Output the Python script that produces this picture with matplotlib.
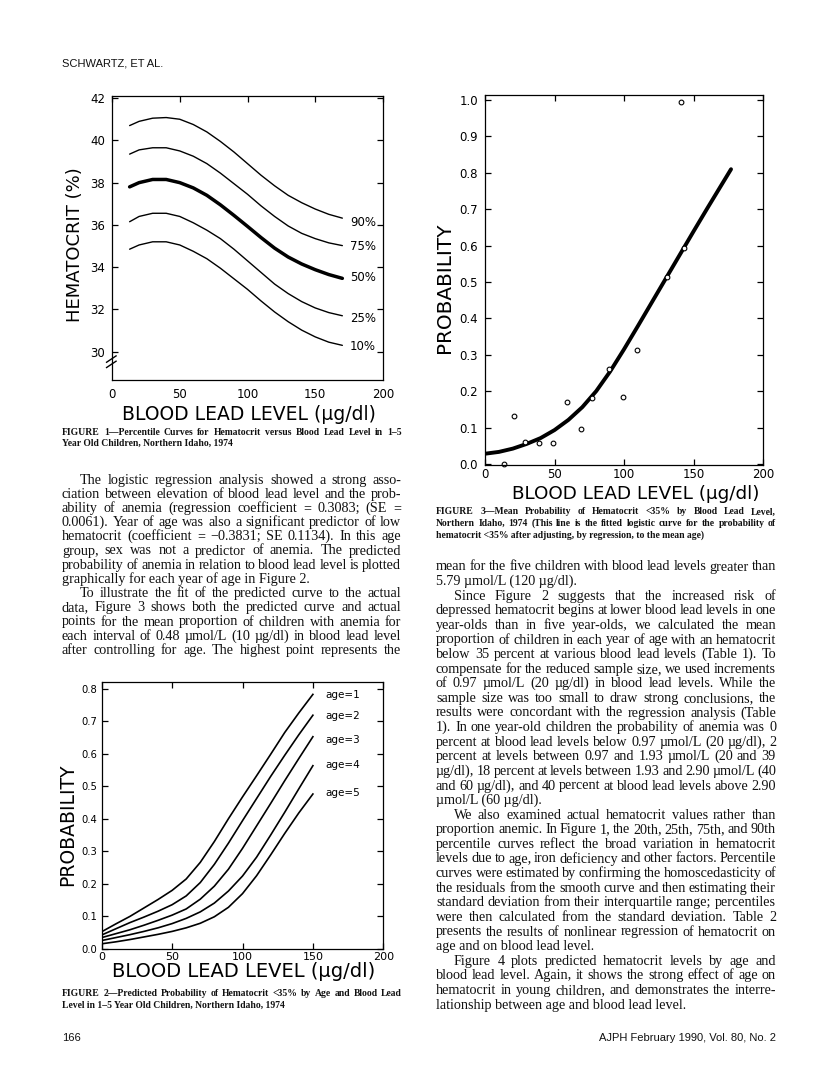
import matplotlib
matplotlib.use('Agg')
import matplotlib.pyplot as plt

plt.rcParams['font.family'] = ['DejaVu Sans']

# ---- Figure 1: percentile curves of hematocrit ----
f1_lead = [13, 20, 30, 40, 50, 60, 70, 80, 90, 100, 110, 120, 130, 140, 150, 160, 170]
hct_p90 = [40.7, 40.9, 41.05, 41.08, 41.0, 40.75, 40.4, 39.95, 39.45, 38.9, 38.35, 37.85, 37.4, 37.05, 36.75, 36.5, 36.32]
hct_p75 = [39.35, 39.55, 39.65, 39.65, 39.5, 39.25, 38.9, 38.45, 37.95, 37.45, 36.9, 36.4, 35.95, 35.6, 35.35, 35.15, 35.02]
hct_p50 = [37.8, 38.0, 38.15, 38.15, 38.0, 37.75, 37.4, 36.95, 36.45, 35.93, 35.4, 34.9, 34.48, 34.15, 33.88, 33.65, 33.47]
hct_p25 = [36.15, 36.4, 36.55, 36.55, 36.4, 36.1, 35.75, 35.35, 34.85, 34.3, 33.75, 33.2, 32.75, 32.37, 32.07, 31.85, 31.7]
hct_p10 = [34.85, 35.05, 35.2, 35.2, 35.05, 34.75, 34.4, 33.95, 33.45, 32.95, 32.4, 31.88, 31.42, 31.02, 30.7, 30.45, 30.3]
pct_names = ['90%', '75%', '50%', '25%', '10%']
pct_label_y = [36.09, 34.97, 33.52, 31.57, 30.23]

# ---- Figure 2: predicted probability by age ----
f2_lead = [0, 10, 20, 30, 40, 50, 60, 70, 80, 90, 100, 110, 120, 130, 140, 150]
prob_age1 = [0.053, 0.077, 0.10, 0.126, 0.152, 0.18, 0.215, 0.266, 0.33, 0.40, 0.467, 0.532, 0.598, 0.665, 0.725, 0.782]
prob_age2 = [0.043, 0.062, 0.081, 0.098, 0.116, 0.136, 0.163, 0.204, 0.26, 0.325, 0.394, 0.462, 0.53, 0.595, 0.658, 0.718]
prob_age3 = [0.035, 0.047, 0.059, 0.073, 0.088, 0.104, 0.123, 0.153, 0.193, 0.245, 0.309, 0.378, 0.447, 0.517, 0.585, 0.652]
prob_age4 = [0.026, 0.035, 0.044, 0.054, 0.065, 0.078, 0.094, 0.114, 0.141, 0.178, 0.224, 0.282, 0.35, 0.42, 0.492, 0.563]
prob_age5 = [0.016, 0.022, 0.029, 0.037, 0.045, 0.054, 0.065, 0.079, 0.099, 0.128, 0.17, 0.225, 0.289, 0.355, 0.418, 0.476]
age_names = ['age=1', 'age=2', 'age=3', 'age=4', 'age=5']
age_label_y = [0.78, 0.716, 0.642, 0.565, 0.478]

# ---- Figure 3: fitted logistic curve and observed means ----
f3_lead = [0, 10, 20, 30, 40, 50, 60, 70, 80, 90, 100, 110, 120, 130, 140, 150, 160, 170, 177]
fit_prob = [0.028, 0.033, 0.042, 0.055, 0.071, 0.093, 0.121, 0.156, 0.2, 0.254, 0.315, 0.379, 0.444, 0.509, 0.574, 0.639, 0.703, 0.766, 0.81]
obs_lead = [14, 21, 29, 39, 49, 59, 69, 77, 89, 99, 109, 131, 143, 141]
obs_prob = [0.0, 0.133, 0.06, 0.057, 0.057, 0.171, 0.095, 0.182, 0.262, 0.184, 0.313, 0.513, 0.593, 0.995]

# ---- page text ----
left_text = [
    "The logistic regression analysis showed a strong asso-",
    "ciation between elevation of blood lead level and the prob-",
    "ability of anemia (regression coefficient = 0.3083; (SE =",
    "0.0061). Year of age was also a significant predictor of low",
    "hematocrit (coefficient = \u22120.3831; SE 0.1134). In this age",
    "group, sex was not a predictor of anemia. The predicted",
    "probability of anemia in relation to blood lead level is plotted",
    "graphically for each year of age in Figure 2.",
    "To illustrate the fit of the predicted curve to the actual",
    "data, Figure 3 shows both the predicted curve and actual",
    "points for the mean proportion of children with anemia for",
    "each interval of 0.48 \u00b5mol/L (10 \u00b5g/dl) in blood lead level",
    "after controlling for age. The highest point represents the",
]
right_text = [
    "mean for the five children with blood lead levels greater than",
    "5.79 \u00b5mol/L (120 \u00b5g/dl).",
    "Since Figure 2 suggests that the increased risk of",
    "depressed hematocrit begins at lower blood lead levels in one",
    "year-olds than in five year-olds, we calculated the mean",
    "proportion of children in each year of age with an hematocrit",
    "below 35 percent at various blood lead levels (Table 1). To",
    "compensate for the reduced sample size, we used increments",
    "of 0.97 \u00b5mol/L (20 \u00b5g/dl) in blood lead levels. While the",
    "sample size was too small to draw strong conclusions, the",
    "results were concordant with the regression analysis (Table",
    "1). In one year-old children the probability of anemia was 0",
    "percent at blood lead levels below 0.97 \u00b5mol/L (20 \u00b5g/dl), 2",
    "percent at levels between 0.97 and 1.93 \u00b5mol/L (20 and 39",
    "\u00b5g/dl), 18 percent at levels between 1.93 and 2.90 \u00b5mol/L (40",
    "and 60 \u00b5g/dl), and 40 percent at blood lead levels above 2.90",
    "\u00b5mol/L (60 \u00b5g/dl).",
    "We also examined actual hematocrit values rather than",
    "proportion anemic. In Figure 1, the 20th, 25th, 75th, and 90th",
    "percentile curves reflect the broad variation in hematocrit",
    "levels due to age, iron deficiency and other factors. Percentile",
    "curves were estimated by confirming the homoscedasticity of",
    "the residuals from the smooth curve and then estimating their",
    "standard deviation from their interquartile range; percentiles",
    "were then calculated from the standard deviation. Table 2",
    "presents the results of nonlinear regression of hematocrit on",
    "age and on blood lead level.",
    "Figure 4 plots predicted hematocrit levels by age and",
    "blood lead level. Again, it shows the strong effect of age on",
    "hematocrit in young children, and demonstrates the interre-",
    "lationship between age and blood lead level.",
]
cap1 = ["FIGURE 1\u2014Percentile Curves for Hematocrit versus Blood Lead Level in 1\u20135",
        "Year Old Children, Northern Idaho, 1974"]
cap2 = ["FIGURE 2\u2014Predicted Probability of Hematocrit <35% by Age and Blood Lead",
        "Level in 1\u20135 Year Old Children, Northern Idaho, 1974"]
cap3 = ["FIGURE 3\u2014Mean Probability of Hematocrit <35% by Blood Lead Level,",
        "Northern Idaho, 1974 (This line is the fitted logistic curve for the probability of",
        "hematocrit <35% after adjusting, by regression, to the mean age)"]

W, H = 816, 1091
fig = plt.figure(figsize=(W / 100, H / 100), dpi=100)
renderer = fig.canvas.get_renderer()


def px_box(x0, y0, x1, y1):
    return [x0 / W, 1 - y1 / H, (x1 - x0) / W, (y1 - y0) / H]


def frame(ax, size, pad_x, pad_y):
    for s in ax.spines.values():
        s.set_linewidth(0.9)
    ax.tick_params(direction='in', top=True, right=True, length=4, width=0.9,
                   labelsize=size)
    ax.tick_params(axis='x', pad=pad_x)
    ax.tick_params(axis='y', pad=pad_y)


def text_line(s, x0, x1, y, justify, **kw):
    if not justify:
        fig.text(x0 / W, 1 - y / H, s, ha='left', va='baseline', **kw)
        return
    words = s.split()
    objs = [fig.text(0, 1 - y / H, w, ha='left', va='baseline', **kw) for w in words]
    widths = [o.get_window_extent(renderer).width for o in objs]
    gap = (x1 - x0 - sum(widths)) / (len(words) - 1)
    x = x0
    for o, w in zip(objs, widths):
        o.set_x(x / W)
        x += w + gap


def block(lines, x0, x1, y0, step, starts=(), ends=(), indent=18, **kw):
    for i, s in enumerate(lines):
        xs = x0 + (indent if i in starts else 0)
        text_line(s, xs, x1, y0 + i * step, i not in ends, **kw)


body = dict(family=['Liberation Serif', 'DejaVu Serif'], fontsize=10.2, color='#111111')
capf = dict(family=['Liberation Serif', 'DejaVu Serif'], fontsize=6.9, weight='bold', color='#111111')
sansf = dict(family=['Liberation Sans', 'DejaVu Sans'], fontsize=8, color='#111111')

# ---------- Figure 1 ----------
ax1 = fig.add_axes(px_box(112, 96, 383, 380))
for vals, lw in zip([hct_p90, hct_p75, hct_p50, hct_p25, hct_p10], [1.0, 1.0, 2.5, 1.0, 1.0]):
    ax1.plot(f1_lead, vals, color='black', lw=lw, solid_capstyle='round', solid_joinstyle='round')
for name, yv in zip(pct_names, pct_label_y):
    ax1.text(175.6, yv, name, ha='left', va='center', fontsize=8.5)
ax1.set_xlim(0, 200)
ax1.set_ylim(28.66, 42.1)
ax1.set_xticks([0, 50, 100, 150, 200])
ax1.set_yticks([30, 32, 34, 36, 38, 40, 42])
frame(ax1, 8.5, 6, 5)
ax1.tick_params(axis='x', bottom=False)
tr = ax1.get_yaxis_transform()
ax1.plot([-0.02, 0.015], [29.25, 29.55], color='black', lw=1, transform=tr, clip_on=False)
ax1.plot([-0.02, 0.015], [29.5, 29.8], color='black', lw=1, transform=tr, clip_on=False)
ax1.set_ylabel('HEMATOCRIT (%)', fontsize=13, va='center', ha='center')
ax1.yaxis.set_label_coords(-0.137, 0.475)
ax1.set_xlabel('BLOOD LEAD LEVEL (\u00b5g/dl)', fontsize=13.5, va='center')
ax1.xaxis.set_label_coords(0.506, -0.121)

# ---------- Figure 2 ----------
ax2 = fig.add_axes(px_box(101.7, 682, 383.3, 949))
for vals in [prob_age1, prob_age2, prob_age3, prob_age4, prob_age5]:
    ax2.plot(f2_lead, vals, color='black', lw=1.2, solid_joinstyle='round')
for name, yv in zip(age_names, age_label_y):
    ax2.text(158.6, yv, name, ha='left', va='center', fontsize=7.5)
ax2.set_xlim(0, 200)
ax2.set_ylim(0, 0.82)
ax2.set_xticks([0, 50, 100, 150, 200])
yt2 = [0.0, 0.1, 0.2, 0.3, 0.4, 0.5, 0.6, 0.7, 0.8]
ax2.set_yticks(yt2, [f'{v:.1f}' for v in yt2])
frame(ax2, 7.2, 2.5, 3)
ax2.tick_params(axis='x', labelsize=8)
ax2.set_ylabel('PROBABILITY', fontsize=13.5, va='center', ha='center')
ax2.yaxis.set_label_coords(-0.122, 0.464)
ax2.set_xlabel('BLOOD LEAD LEVEL (\u00b5g/dl)', fontsize=14, va='center')
ax2.xaxis.set_label_coords(0.505, -0.085)

# ---------- Figure 3 ----------
ax3 = fig.add_axes(px_box(485, 95, 763, 465))
ax3.plot(f3_lead, fit_prob, color='black', lw=2.8, solid_capstyle='round', solid_joinstyle='round')
ax3.plot(obs_lead, obs_prob, 'o', ms=3.4, mfc='white', mec='black', mew=0.8, clip_on=False)
ax3.set_xlim(0, 200)
ax3.set_ylim(-0.003, 1.014)
ax3.set_xticks([0, 50, 100, 150, 200])
yt3 = [0.0, 0.1, 0.2, 0.3, 0.4, 0.5, 0.6, 0.7, 0.8, 0.9, 1.0]
ax3.set_yticks(yt3, [f'{v:.1f}' for v in yt3])
frame(ax3, 8.5, 2, 5)
ax3.set_ylabel('PROBABILITY', fontsize=14.4, va='center', ha='center')
ax3.yaxis.set_label_coords(-0.144, 0.478)
ax3.set_xlabel('BLOOD LEAD LEVEL (\u00b5g/dl)', fontsize=13.2, va='center')
ax3.xaxis.set_label_coords(0.541, -0.078)

# ---------- captions, body text, running heads ----------
block(cap1, 62, 402, 435, 11, ends=(1,), indent=0, **capf)
block(cap2, 62, 402, 996, 11.5, ends=(1,), indent=0, **capf)
block(cap3, 436, 776, 514.5, 11.5, ends=(2,), indent=0, **capf)
block(left_text, 62, 401, 483.5, 14.2, starts=(0, 8), ends=(7,), **body)
block(right_text, 436, 776, 570.5, 14.6, starts=(2, 17, 27), ends=(1, 16, 26, 30), **body)

fig.text(62 / W, 1 - 66.5 / H, 'SCHWARTZ, ET AL.', ha='left', va='baseline', **sansf)
fig.text(62 / W, 1 - 1041 / H, '166', ha='left', va='baseline', **sansf)
fig.text(776 / W, 1 - 1041 / H, 'AJPH February 1990, Vol. 80, No. 2', ha='right', va='baseline', **sansf)

fig.savefig('out.png', dpi=100)
